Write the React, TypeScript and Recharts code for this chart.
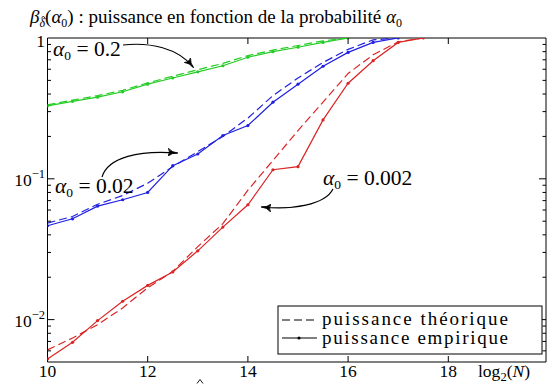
import React from 'react';
import { LineChart, Line, XAxis, YAxis, ReferenceArea } from 'recharts';

// ---- data ----
const xValues = [10, 10.5, 11, 11.5, 12, 12.5, 13, 13.5, 14, 14.5, 15, 15.5, 16, 16.5, 17, 17.5];

const greenEmp = [0.33, 0.355, 0.38, 0.415, 0.47, 0.52, 0.575, 0.635, 0.73, 0.8, 0.86, 0.93, 1.0];
const greenThe = [0.335, 0.362, 0.39, 0.425, 0.48, 0.535, 0.595, 0.66, 0.75, 0.82, 0.885, 0.955, 1.0];

const blueEmp = [0.0464, 0.052, 0.064, 0.071, 0.08, 0.124, 0.15, 0.203, 0.239, 0.35, 0.47, 0.63, 0.79, 0.93, 1.0];
const blueThe = [0.0485, 0.054, 0.066, 0.076, 0.093, 0.122, 0.156, 0.2, 0.27, 0.39, 0.52, 0.67, 0.83, 0.97, 1.0];

const redEmp = [0.00526, 0.0069, 0.00984, 0.0135, 0.0175, 0.0218, 0.0308, 0.0454, 0.0654, 0.116, 0.122, 0.262, 0.477, 0.69, 0.93, 1.0];
const redThe = [0.0061, 0.0074, 0.0092, 0.0121, 0.0168, 0.022, 0.033, 0.048, 0.083, 0.135, 0.22, 0.35, 0.56, 0.76, 0.94, 1.0];

const xTicks = [10, 12, 14, 16, 18];
const yMajorTicks = [0.01, 0.1, 1];
const yMinorTicks = [
  0.006, 0.007, 0.008, 0.009,
  0.02, 0.03, 0.04, 0.05, 0.06, 0.07, 0.08, 0.09,
  0.2, 0.3, 0.4, 0.5, 0.6, 0.7, 0.8, 0.9,
];
const yLabels: Record<string, [string, string]> = {
  '0.01': ['10', '−2'],
  '0.1': ['10', '−1'],
  '1': ['1', ''],
};
const legendLabels = ['puissance théorique', 'puissance empirique'];
const annotationLabels = ['0.2', '0.02', '0.002'];

const rows = xValues.map((x, i) => ({
  x,
  gE: greenEmp[i] ?? null,
  gT: greenThe[i] ?? null,
  bE: blueEmp[i] ?? null,
  bT: blueThe[i] ?? null,
  rE: redEmp[i] ?? null,
  rT: redThe[i] ?? null,
}));

// ---- layout ----
const W = 547;
const H = 385;
const PLOT_LEFT = 47.5;
const PLOT_RIGHT = 546;
const PLOT_TOP = 38;
const PLOT_BOTTOM = 362;
const FONT = '"Liberation Serif", "Times New Roman", serif';
const GREEN = '#24cc24';
const BLUE = '#2020e0';
const RED = '#dc2424';
const DASH = '8 4';

const XTick = (props: any) => {
  const { x, payload } = props;
  const v = payload.value;
  const showMarks = v > 10;
  return (
    <g>
      {showMarks && (
        <>
          <line x1={x} x2={x} y1={PLOT_BOTTOM} y2={PLOT_BOTTOM - 6} stroke="#000" strokeWidth={1} />
          <line x1={x} x2={x} y1={PLOT_TOP} y2={PLOT_TOP + 6} stroke="#000" strokeWidth={1} />
        </>
      )}
      <text x={x} y={377} textAnchor="middle" fontFamily={FONT} fontSize={17.5} fill="#000">
        {v}
      </text>
    </g>
  );
};

const YTick = (props: any) => {
  const { y, payload } = props;
  const v = payload.value;
  const label = yLabels[String(v)];
  const major = !!label;
  const len = major ? 7 : 3.5;
  return (
    <g>
      {v < 1 && (
        <>
          <line x1={PLOT_LEFT} x2={PLOT_LEFT + len} y1={y} y2={y} stroke="#000" strokeWidth={1} />
          <line x1={PLOT_RIGHT - len} x2={PLOT_RIGHT} y1={y} y2={y} stroke="#000" strokeWidth={1} />
        </>
      )}
      {label && (
        <text x={45} y={y + (v === 1 ? 8.5 : 7)} textAnchor="end" fontFamily={FONT} fontSize={17.5} fill="#000">
          <tspan>{label[0]}</tspan>
          {label[1] && (
            <tspan fontSize={12.5} dy={-8}>
              {label[1]}
            </tspan>
          )}
        </text>
      )}
    </g>
  );
};

const Arrow = ({ d, id }: { d: string; id: string }) => (
  <path d={d} fill="none" stroke="#000" strokeWidth={1.2} markerEnd={`url(#${id})`} />
);

const Annot = ({ x, y, value }: { x: number; y: number; value: string }) => (
  <text x={x} y={y} fontSize={21.5} fill="#000">
    <tspan fontStyle="italic">α</tspan>
    <tspan fontSize={13.5} dy={4}>0</tspan>
    <tspan dy={-4}>{' = ' + value}</tspan>
  </text>
);

export default function App() {
  return (
    <div style={{ position: 'fixed', left: 0, top: 0, width: W, height: H, background: '#fff' }}>
      <LineChart
        width={W}
        height={H}
        data={rows}
        margin={{ top: PLOT_TOP, right: W - PLOT_RIGHT, bottom: 0, left: 0 }}
      >
        <XAxis
          dataKey="x"
          type="number"
          domain={[10, 19.95]}
          ticks={xTicks}
          interval={0}
          tick={<XTick />}
          tickLine={false}
          axisLine={false}
          height={H - PLOT_BOTTOM}
          allowDataOverflow
        />
        <YAxis
          scale="log"
          domain={[0.005, 1]}
          ticks={[...yMinorTicks, ...yMajorTicks]}
          interval={0}
          tick={<YTick />}
          tickLine={false}
          axisLine={false}
          width={PLOT_LEFT}
          allowDataOverflow
        />
        <ReferenceArea
          x1={10}
          x2={19.95}
          y1={0.005}
          y2={1}
          fill="none"
          fillOpacity={0}
          stroke="#000"
          strokeWidth={1}
          ifOverflow="visible"
        />
        <Line dataKey="gT" stroke={GREEN} strokeWidth={1.2} strokeDasharray={DASH} dot={false} isAnimationActive={false} />
        <Line dataKey="gE" stroke={GREEN} strokeWidth={1.2} dot={{ r: 1.6, fill: GREEN, stroke: GREEN, strokeWidth: 0 }} isAnimationActive={false} />
        <Line dataKey="bT" stroke={BLUE} strokeWidth={1.2} strokeDasharray={DASH} dot={false} isAnimationActive={false} />
        <Line dataKey="bE" stroke={BLUE} strokeWidth={1.2} dot={{ r: 1.6, fill: BLUE, stroke: BLUE, strokeWidth: 0 }} isAnimationActive={false} />
        <Line dataKey="rT" stroke={RED} strokeWidth={1.2} strokeDasharray={DASH} dot={false} isAnimationActive={false} />
        <Line dataKey="rE" stroke={RED} strokeWidth={1.2} dot={{ r: 1.6, fill: RED, stroke: RED, strokeWidth: 0 }} isAnimationActive={false} />
      </LineChart>

      <svg
        width={W}
        height={H}
        style={{ position: 'absolute', left: 0, top: 0, pointerEvents: 'none' }}
        fontFamily={FONT}
      >
        <defs>
          <marker id="ah" viewBox="0 0 10 8" refX="9" refY="4" markerWidth="10" markerHeight="8" markerUnits="userSpaceOnUse" orient="auto">
            <path d="M0,0 Q4,4 10,4 Q4,4 0,8 Q3,4 0,0 z" fill="#000" stroke="#000" strokeWidth={0.8} />
          </marker>
        </defs>

        {/* title */}
        <text x={30} y={23} fontSize={19} fill="#000">
          <tspan fontStyle="italic">β</tspan>
          <tspan fontSize={12} dy={3.5} fontStyle="italic">δ</tspan>
          <tspan dy={-3.5}>(</tspan>
          <tspan fontStyle="italic">α</tspan>
          <tspan fontSize={12} dy={3.5}>0</tspan>
          <tspan dy={-3.5}>) : puissance en fonction de la probabilité </tspan>
          <tspan fontStyle="italic">α</tspan>
          <tspan fontSize={12} dy={3.5}>0</tspan>
        </text>
        <polyline points="41.3,18.5 43.3,16 45.3,18.5" fill="none" stroke="#000" strokeWidth={0.8} />

        {/* annotations */}
        <Annot x={53} y={56} value={annotationLabels[0]} />
        <Arrow id="ah" d="M123 45 C150 42 178 48 193 67" />

        <Annot x={55} y={193} value={annotationLabels[1]} />
        <Arrow id="ah" d="M102 177 C108 157 140 150 177 153" />

        <Annot x={323} y={185} value={annotationLabels[2]} />
        <Arrow id="ah" d="M333 189 C325 205 292 210 262 207" />

        {/* x label */}
        <text x={478} y={377} fontSize={17.5} fill="#000">
          <tspan>log</tspan>
          <tspan fontSize={12.5} dy={4}>2</tspan>
          <tspan dy={-4}>(</tspan>
          <tspan fontStyle="italic">N</tspan>
          <tspan>)</tspan>
        </text>
        <polyline points="197,383.5 200,379.5 203,383.5" fill="none" stroke="#000" strokeWidth={0.9} />

        {/* legend */}
        <rect x={278} y={306} width={264} height={48} fill="#fff" stroke="#000" strokeWidth={1} />
        <line x1={282} x2={317} y1={320} y2={320} stroke="#000" strokeWidth={1.2} strokeDasharray="8 4" />
        <text x={322} y={325} fontSize={19} fill="#000" textLength={186} lengthAdjust="spacing">{legendLabels[0]}</text>
        <line x1={282} x2={317} y1={338} y2={338} stroke="#000" strokeWidth={1.2} />
        <circle cx={299} cy={338} r={1.6} fill="#000" />
        <text x={322} y={344} fontSize={19} fill="#000" textLength={186} lengthAdjust="spacing">{legendLabels[1]}</text>
      </svg>
    </div>
  );
}
